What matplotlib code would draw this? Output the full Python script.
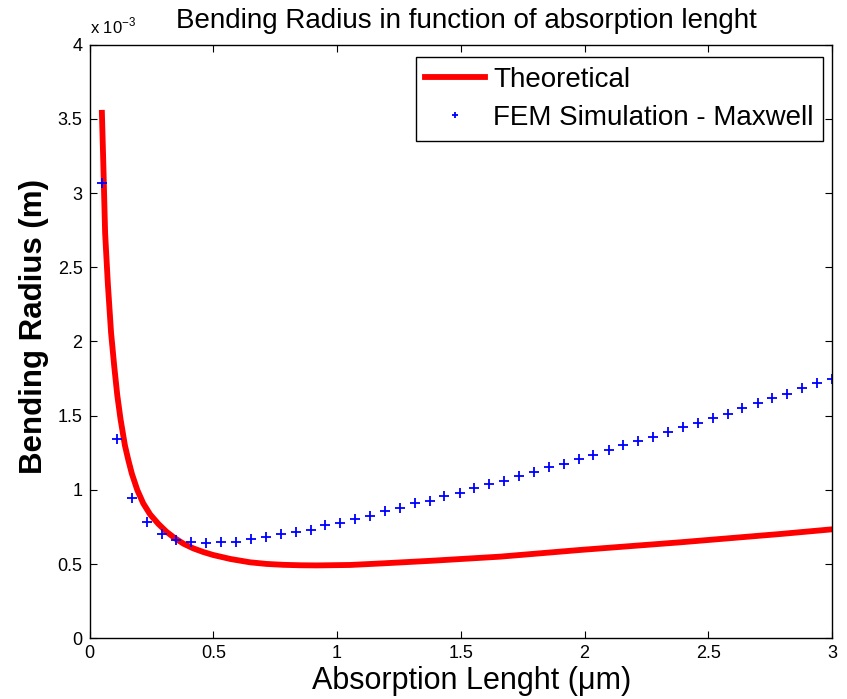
import numpy as np
import matplotlib
matplotlib.use("Agg")
import matplotlib.pyplot as plt
from matplotlib.ticker import FuncFormatter, MultipleLocator

plt.rcParams["font.family"] = ["Liberation Sans", "DejaVu Sans"]
plt.rcParams["mathtext.fontset"] = "custom"
plt.rcParams["mathtext.rm"] = "Liberation Sans"

# Theoretical curve (absorption length in um, bending radius in units of 1e-3 m)
theo_x = [0.050, 0.056, 0.063, 0.074, 0.087, 0.100, 0.112, 0.125, 0.143, 0.157,
          0.171, 0.193, 0.217, 0.245, 0.278, 0.310, 0.345, 0.380, 0.419, 0.460,
          0.500, 0.570, 0.648, 0.715, 0.783, 0.850, 0.918, 1.053, 1.187, 1.389,
          1.659, 1.982, 2.390, 2.794, 3.000]
theo_r = [3.54, 3.18, 2.73, 2.39, 2.06, 1.83, 1.64, 1.48, 1.30, 1.20,
          1.11, 1.00, 0.910, 0.835, 0.772, 0.720, 0.675, 0.638, 0.607, 0.582,
          0.562, 0.535, 0.513, 0.502, 0.496, 0.493, 0.492, 0.495, 0.506, 0.524,
          0.551, 0.596, 0.648, 0.704, 0.735]

# FEM simulation points
fem_x = [0.050, 0.110, 0.170, 0.231, 0.291, 0.351, 0.411, 0.471, 0.532, 0.592,
         0.652, 0.712, 0.772, 0.833, 0.893, 0.953, 1.013, 1.073, 1.134, 1.194,
         1.254, 1.314, 1.374, 1.434, 1.495, 1.555, 1.615, 1.675, 1.735, 1.796,
         1.856, 1.916, 1.976, 2.036, 2.097, 2.157, 2.217, 2.277, 2.337, 2.398,
         2.458, 2.518, 2.578, 2.638, 2.699, 2.759, 2.819, 2.879, 2.939, 3.000]
fem_r = [3.065, 1.341, 0.948, 0.787, 0.704, 0.663, 0.648, 0.641, 0.650, 0.650,
         0.670, 0.681, 0.702, 0.719, 0.733, 0.762, 0.780, 0.805, 0.825, 0.859,
         0.877, 0.910, 0.928, 0.962, 0.982, 1.011, 1.040, 1.062, 1.094, 1.123,
         1.157, 1.175, 1.207, 1.236, 1.269, 1.301, 1.330, 1.359, 1.389, 1.422,
         1.449, 1.483, 1.514, 1.554, 1.588, 1.617, 1.646, 1.685, 1.718, 1.747]

theo_r = np.array(theo_r) * 1e-3
fem_r = np.array(fem_r) * 1e-3

fig = plt.figure(figsize=(8.47, 6.99), dpi=100)
ax = fig.add_axes([0.1057, 0.0866, 0.8766, 0.8497])

ax.plot(theo_x, theo_r, color="red", lw=4.2, label="Theoretical", solid_joinstyle="round")
ax.plot(fem_x, fem_r, ls="none", marker="+", color="blue", ms=6.5, mew=1.3,
        label="FEM Simulation - Maxwell")

ax.set_xlim(0, 3)
ax.set_ylim(0, 4e-3)
ax.xaxis.set_major_locator(MultipleLocator(0.5))
ax.yaxis.set_major_locator(MultipleLocator(0.5e-3))
ax.xaxis.set_major_formatter(FuncFormatter(lambda v, p: f"{v:g}"))
ax.yaxis.set_major_formatter(FuncFormatter(lambda v, p: f"{v * 1e3:g}"))
ax.tick_params(direction="in", top=True, right=True, length=5, width=0.8,
               labelsize=13, pad=5, colors="black")
for s in ax.spines.values():
    s.set_linewidth(1.0)

ax.text(0.0, 1.014, r"x 10$^{-3}$", transform=ax.transAxes, fontsize=12,
        ha="left", va="bottom")
ax.set_title("Bending Radius in function of absorption lenght", fontsize=20, pad=12, x=0.507)
ax.set_xlabel("Absorption Lenght (\u03bcm)", fontsize=22, labelpad=1)
ax.set_ylabel("Bending Radius (m)", fontsize=22.5, fontweight="bold", labelpad=6)
ax.xaxis.set_label_coords(0.515, -0.047, transform=ax.transAxes)
ax.yaxis.set_label_coords(-0.075, 0.525, transform=ax.transAxes)
ax.xaxis.label.set_va("top")
ax.yaxis.label.set_va("center")

leg = ax.legend(loc="upper right", bbox_to_anchor=(0.988, 0.979), borderaxespad=0,
                fontsize=20, fancybox=False, framealpha=1, edgecolor="black",
                handlelength=2.15, handletextpad=0.28, labelspacing=0.45,
                borderpad=0.35, markerscale=0.6)
leg.get_frame().set_linewidth(1.0)

fig.savefig("out.png", dpi=100)
